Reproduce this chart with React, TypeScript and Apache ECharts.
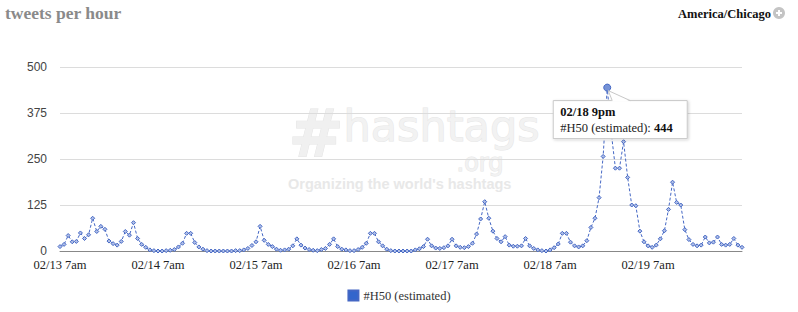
import React, { useEffect, useRef } from "react";
import * as echarts from "echarts";

const days = ["02/13", "02/14", "02/15", "02/16", "02/17", "02/18", "02/19", "02/20"];
const hourNames = [
  "12am", "1am", "2am", "3am", "4am", "5am", "6am", "7am", "8am", "9am", "10am", "11am",
  "12pm", "1pm", "2pm", "3pm", "4pm", "5pm", "6pm", "7pm", "8pm", "9pm", "10pm", "11pm",
];
const startHour = 7;

const values = [
  12, 18, 42, 25, 26, 49, 34, 44, 89, 53, 67, 59, 27, 20, 16, 26, 53, 43, 77, 34, 18, 10, 3, 1,
  0, 0, 1, 2, 4, 11, 21, 48, 48, 23, 11, 5, 1, 0, 0, 0, 0, 0, 0, 1, 1, 3, 7, 15,
  25, 67, 29, 18, 12, 5, 2, 3, 5, 14, 33, 16, 8, 4, 2, 1, 4, 7, 18, 33, 12, 5, 3, 1,
  1, 4, 10, 21, 48, 48, 25, 14, 5, 1, 0, 0, 0, 0, 0, 3, 6, 12, 32, 14, 8, 7, 9, 14,
  32, 14, 10, 9, 12, 21, 46, 87, 134, 89, 54, 34, 25, 39, 16, 13, 13, 14, 34, 14, 7, 3, 1, 0,
  3, 9, 19, 48, 48, 24, 14, 11, 14, 28, 64, 89, 145, 257, 444, 320, 225, 225, 297, 200, 125, 123, 54, 25,
  14, 10, 16, 33, 55, 113, 187, 132, 125, 58, 31, 18, 14, 16, 38, 22, 24, 38, 18, 16, 18, 34, 16, 10,
];

const categories: string[] = values.map((_, i) => {
  const h = startHour + i;
  return days[Math.floor(h / 24)] + " " + hourNames[h % 24];
});

const yMax = 500;
const yInterval = 125;
const seriesName = "#H50 (estimated)";
const highlightIndex = 134;
const titleText = "tweets per hour";
const zoneText = "America/Chicago";

export default function App() {
  const ref = useRef<HTMLDivElement>(null);

  useEffect(() => {
    if (!ref.current) return;
    const chart = echarts.init(ref.current, null, { renderer: "svg" });
    const lineColor = "#4467c4";
    const serif = "'Liberation Serif', 'DejaVu Serif', serif";

    const watermark = [
      { type: "text", left: 288, top: 100, z: 0, style: { text: "#", fontSize: 66, fontWeight: "bold", fontFamily: "'DejaVu Sans', sans-serif", fill: "#f0f0f0", stroke: "#e4e4e4", lineWidth: 1 } },
      { type: "text", left: 343, top: 104, z: 0, style: { text: "hashtags", fontSize: 43, fontWeight: "normal", fontFamily: "'DejaVu Sans', sans-serif", fill: "#f2f2f2", stroke: "#e6e6e6", lineWidth: 1 } },
      { type: "text", left: 456, top: 150, z: 0, style: { text: ".org", fontSize: 24, fontFamily: "'DejaVu Sans', sans-serif", fill: "#f2f2f2", stroke: "#e6e6e6", lineWidth: 1 } },
      { type: "text", left: 288, top: 176, z: 0, style: { text: "Organizing the world's hashtags", fontSize: 14.5, fontWeight: "bold", fontFamily: "'Liberation Sans', Arial, sans-serif", fill: "#e8e8e8" } },
    ];

    const header = [
      { type: "text", left: 5, top: 4, style: { text: titleText, fontSize: 17.5, fontWeight: "bold", fontFamily: serif, fill: "#8a8a8a" } },
      { type: "text", right: 27, top: 7, style: { text: zoneText, fontSize: 12.5, fontWeight: "bold", fontFamily: serif, fill: "#111" } },
      { type: "circle", shape: { cx: 779, cy: 13, r: 6 }, style: { fill: "#c4c4c4" } },
      { type: "rect", shape: { x: 776, y: 12, width: 6, height: 2 }, style: { fill: "#fff" } },
      { type: "rect", shape: { x: 778, y: 10, width: 2, height: 6 }, style: { fill: "#fff" } },
    ];

    const data = values.map((v, i) =>
      i === highlightIndex
        ? { value: v, symbol: "circle", symbolSize: 7, itemStyle: { color: "#7592d6", borderColor: lineColor, borderWidth: 1 } }
        : v
    );

    chart.setOption({
      animation: false,
      grid: { left: 60, right: 56, top: 67, height: 184, containLabel: false },
      legend: {
        bottom: 5,
        left: "center",
        icon: "rect",
        itemWidth: 10,
        itemHeight: 10,
        itemGap: 5,
        textStyle: { fontFamily: serif, fontSize: 12.5, color: "#333" },
        data: [{ name: seriesName, itemStyle: { color: "#3366cc" } }],
      },
      xAxis: {
        type: "category",
        data: categories,
        boundaryGap: false,
        axisLine: { show: true, lineStyle: { color: "#888", width: 1 } },
        axisTick: { show: false },
        axisLabel: { interval: 23, margin: 7, fontFamily: serif, fontSize: 12.5, color: "#222" },
        splitLine: { show: false },
      },
      yAxis: {
        type: "value",
        min: 0,
        max: yMax,
        interval: yInterval,
        axisLine: { show: false },
        axisTick: { show: false },
        axisLabel: { margin: 13, fontFamily: "'Liberation Sans', Arial, sans-serif", fontSize: 12, color: "#444" },
        splitLine: { lineStyle: { color: "#dcdcdc", width: 1 } },
      },
      series: [
        {
          name: seriesName,
          type: "line",
          data,
          symbol: "diamond",
          symbolSize: 4,
          showAllSymbol: true,
          itemStyle: { color: "#b0bfe8", borderColor: lineColor, borderWidth: 1 },
          lineStyle: { color: lineColor, width: 1, type: [3, 2] },
          z: 3,
        },
      ],
      graphic: [...watermark, ...header],
    });

    const pt = chart.convertToPixel({ seriesIndex: 0 }, [highlightIndex, values[highlightIndex]]) as number[];
    const px = pt[0];
    const py = pt[1];
    const boxL = px - 54;
    const boxT = py + 13;
    const boxW = 134;
    const boxH = 38;
    const tip = [
      { type: "rect", z: 100, shape: { x: boxL, y: boxT, width: boxW, height: boxH }, style: { fill: "#fff", stroke: "#c8c8c8", lineWidth: 1, shadowBlur: 3, shadowColor: "rgba(0,0,0,0.18)", shadowOffsetX: 1, shadowOffsetY: 1 } },
      { type: "polygon", z: 101, shape: { points: [[px + 1, py + 3], [px + 5, boxT + 1], [px + 23, boxT + 1]] }, style: { fill: "#fff", stroke: "none" } },
      { type: "line", z: 102, shape: { x1: px + 1, y1: py + 3, x2: px + 23, y2: boxT }, style: { stroke: "#c8c8c8", lineWidth: 1 } },
      { type: "line", z: 102, shape: { x1: px + 1, y1: py + 3, x2: px + 5, y2: boxT }, style: { stroke: "#c8c8c8", lineWidth: 1 } },
      { type: "text", z: 103, x: boxL + 7, y: boxT + 5, style: { text: categories[highlightIndex], fontSize: 12.5, fontWeight: "bold", fontFamily: serif, fill: "#111" } },
      {
        type: "text", z: 103, x: boxL + 7, y: boxT + 21,
        style: {
          text: "{n|" + seriesName + ": }{b|" + values[highlightIndex] + "}",
          rich: {
            n: { fontSize: 12.5, fontFamily: serif, fill: "#222" },
            b: { fontSize: 12.5, fontWeight: "bold", fontFamily: serif, fill: "#111" },
          },
        },
      },
    ];

    chart.setOption({ graphic: [...watermark, ...header, ...tip] });

    return () => chart.dispose();
  }, []);

  return (
    <div
      ref={ref}
      style={{ position: "absolute", left: 0, top: 0, width: 798, height: 312, background: "#fff" }}
    />
  );
}
